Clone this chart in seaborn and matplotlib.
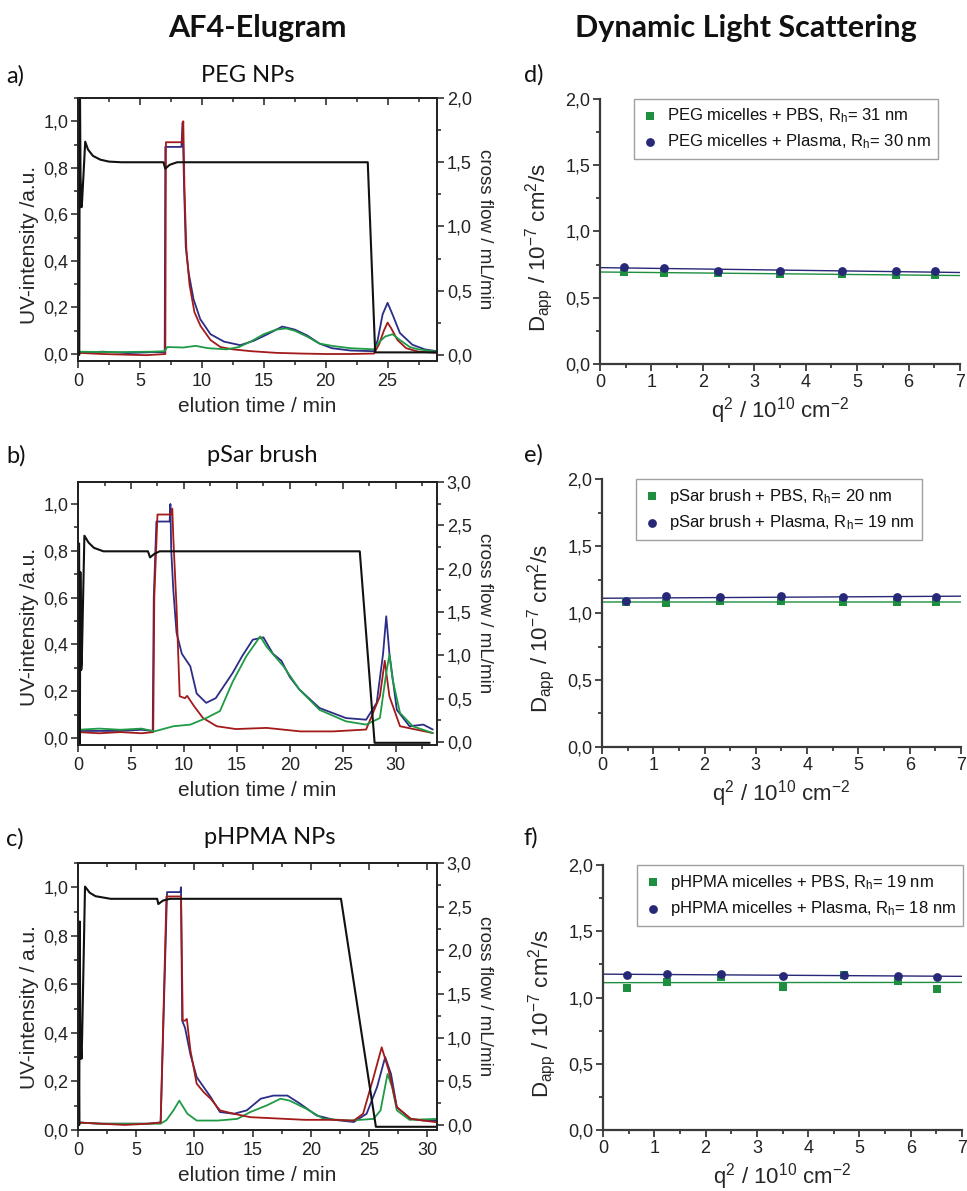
import numpy as np
import matplotlib
matplotlib.use("Agg")
import matplotlib.pyplot as plt
from matplotlib.ticker import MultipleLocator, FuncFormatter, NullFormatter
import seaborn as sns

# ---------------- AF4 data ----------------
# Panel a) PEG NPs
a_blue_t = [0, 2, 4, 6, 7.0, 7.05, 8.35, 8.45, 8.55, 8.7, 8.93, 9.33, 9.87, 10.7, 11.8, 13.1, 14.2, 15.3, 16.5,
            17.5, 18.5, 19.5, 20.5, 22, 23.9, 24.2, 24.6, 25.0, 25.4, 26.0, 27.0, 28.0, 29.0]
a_blue_v = [0.006, 0.01, 0.004, 0.008, 0.008, 0.89, 0.89, 0.995, 0.75, 0.46, 0.35, 0.235, 0.15, 0.085, 0.053,
            0.038, 0.057, 0.085, 0.118, 0.105, 0.08, 0.045, 0.025, 0.015, 0.012, 0.06, 0.17, 0.22, 0.17, 0.09,
            0.04, 0.02, 0.012]
a_red_t = [0, 2, 4, 5.5, 7.05, 7.1, 8.4, 8.5, 8.6, 8.75, 9.0, 9.4, 9.9, 10.7, 11.5, 12.5, 14, 16, 18, 20, 22,
           23.9, 24.3, 24.7, 25.0, 25.3, 25.8, 26.5, 27.5, 29]
a_red_v = [0.005, 0.0, -0.003, -0.005, 0.0, 0.91, 0.91, 1.0, 0.7, 0.45, 0.3, 0.18, 0.12, 0.06, 0.03, 0.02,
           0.012, 0.005, 0.002, 0.0, 0.0, 0.002, 0.04, 0.1, 0.135, 0.11, 0.06, 0.025, 0.01, 0.005]
a_green_t = [0, 3, 6, 7.0, 7.2, 8.5, 9.5, 10.5, 12, 13, 14, 15, 16, 16.8, 17.5, 18.5, 19.5, 20.5, 22, 23.9,
             24.3, 24.8, 25.4, 26.0, 26.8, 27.5, 29]
a_green_v = [0.01, 0.008, 0.01, 0.012, 0.03, 0.028, 0.035, 0.025, 0.02, 0.03, 0.055, 0.085, 0.105, 0.11, 0.1,
             0.075, 0.045, 0.035, 0.025, 0.02, 0.05, 0.075, 0.085, 0.06, 0.03, 0.02, 0.01]
a_flow_t = [0.1, 0.14, 0.2, 0.28, 0.33, 0.58, 0.8, 1.2, 1.8, 2.5, 3.5, 5.0, 6.9, 7.05, 7.4, 8.0, 10, 15, 20,
            23.4, 24.0, 26, 29]
a_flow_v = [0.0, 2.3, 1.4, 1.15, 1.2, 1.66, 1.6, 1.55, 1.52, 1.505, 1.5, 1.5, 1.5, 1.45, 1.48, 1.5, 1.5, 1.5,
            1.5, 1.5, 0.02, 0.02, 0.02]

# Panel b) pSar brush
b_blue_t = [0, 2, 4, 6, 7.05, 7.15, 7.4, 8.65, 8.72, 8.8, 9.0, 9.3, 9.8, 10.6, 11.2, 12.1, 13.0, 14.6, 15.5,
            16.5, 17.5, 18.4, 19.2, 20.0, 20.9, 22.8, 25.3, 27.2, 28.2, 28.8, 29.1, 29.4, 30.1, 31.3, 32.6, 33.5]
b_blue_v = [0.03, 0.03, 0.03, 0.035, 0.03, 0.6, 0.925, 0.925, 1.0, 0.8, 0.63, 0.45, 0.36, 0.306, 0.19, 0.15,
            0.17, 0.278, 0.35, 0.42, 0.43, 0.36, 0.33, 0.26, 0.207, 0.128, 0.085, 0.078, 0.15, 0.36, 0.52, 0.36,
            0.12, 0.05, 0.057, 0.036]
b_red_t = [0, 2, 4, 6, 7.1, 7.2, 7.5, 8.8, 8.9, 9.0, 9.3, 9.6, 10.1, 10.3, 10.97, 11.8, 13.1, 14.9, 17.8,
           21.0, 24.1, 27.2, 28.5, 28.96, 29.4, 30.4, 33.5]
b_red_v = [0.025, 0.02, 0.025, 0.02, 0.025, 0.6, 0.955, 0.955, 0.98, 0.85, 0.56, 0.178, 0.17, 0.18, 0.135,
           0.085, 0.05, 0.038, 0.043, 0.028, 0.028, 0.036, 0.178, 0.33, 0.178, 0.05, 0.021]
b_green_t = [0, 2, 4, 6, 7.2, 9.0, 10.6, 12.1, 13.4, 14.6, 15.9, 17.2, 17.8, 19.4, 20.9, 22.8, 25.3, 27.2,
             28.5, 29.1, 29.4, 29.7, 30.4, 31.6, 33.5]
b_green_v = [0.035, 0.04, 0.035, 0.04, 0.028, 0.05, 0.057, 0.085, 0.115, 0.24, 0.35, 0.434, 0.39, 0.306,
             0.207, 0.12, 0.071, 0.057, 0.085, 0.278, 0.356, 0.25, 0.107, 0.05, 0.021]
b_flow_t = [0.05, 0.1, 0.17, 0.22, 0.3, 0.35, 0.6, 1.0, 1.5, 2.4, 4, 6.6, 6.8, 7.2, 7.7, 10, 20, 26.6, 28.0,
            33.2]
b_flow_v = [2.25, 2.29, -0.02, 1.96, 0.83, 0.9, 2.38, 2.3, 2.24, 2.2, 2.2, 2.2, 2.13, 2.17, 2.2, 2.2, 2.2, 2.2,
            -0.01, -0.01]

# Panel c) pHPMA NPs
c_blue_t = [0, 2, 4, 6, 7.1, 7.65, 8.8, 8.85, 8.95, 9.2, 9.66, 10.2, 10.8, 11.4, 12.2, 13.4, 14.5, 15.7, 16.8,
            18.0, 19.1, 20.5, 22.0, 23.7, 24.8, 25.7, 26.4, 26.9, 27.4, 28.6, 29.7, 31]
c_blue_v = [0.03, 0.025, 0.025, 0.025, 0.03, 0.98, 0.98, 1.0, 0.45, 0.42, 0.31, 0.217, 0.176, 0.135, 0.073,
            0.066, 0.08, 0.128, 0.141, 0.141, 0.107, 0.059, 0.041, 0.032, 0.066, 0.176, 0.3, 0.23, 0.093, 0.045,
            0.038, 0.04]
c_red_t = [0, 2, 4, 6, 7.1, 7.6, 8.85, 9.0, 9.2, 9.35, 9.66, 10.2, 10.8, 11.4, 12.2, 13.4, 14.8, 16.5, 19.5,
           22.0, 23.7, 24.5, 25.4, 26.1, 26.7, 27.4, 28.6, 31]
c_red_v = [0.03, 0.025, 0.02, 0.025, 0.03, 0.962, 0.962, 0.45, 0.45, 0.457, 0.327, 0.19, 0.155, 0.128, 0.08,
           0.066, 0.052, 0.048, 0.041, 0.041, 0.038, 0.066, 0.217, 0.34, 0.245, 0.093, 0.045, 0.03]
c_green_t = [0, 2, 4, 6, 7.1, 7.6, 8.2, 8.7, 9.4, 10.2, 12.0, 13.7, 14.8, 16.2, 17.4, 18.2, 19.6, 21.1, 23.4,
             25.4, 26.0, 26.6, 27.0, 27.4, 28.5, 31]
c_green_v = [0.03, 0.025, 0.025, 0.025, 0.025, 0.04, 0.08, 0.12, 0.066, 0.038, 0.038, 0.045, 0.073, 0.1, 0.128,
             0.12, 0.087, 0.045, 0.038, 0.045, 0.08, 0.23, 0.176, 0.08, 0.041, 0.045]
c_flow_t = [0.05, 0.1, 0.15, 0.2, 0.25, 0.3, 0.35, 0.6, 1.0, 1.5, 2.8, 5, 6.8, 6.9, 7.3, 7.9, 10, 15, 20, 22.6,
            25.6, 31]
c_flow_v = [1.0, 0.0, 2.33, 0.76, 0.9, 0.76, 1.0, 2.73, 2.66, 2.62, 2.59, 2.59, 2.59, 2.53, 2.57, 2.59, 2.59,
            2.59, 2.59, 2.59, -0.02, -0.02]

# ---------------- DLS data ----------------
q2 = [0.47, 1.25, 2.3, 3.5, 4.7, 5.75, 6.52]
d_pbs = [0.697, 0.686, 0.686, 0.676, 0.676, 0.673, 0.671]
d_plasma = [0.735, 0.722, 0.702, 0.705, 0.699, 0.699, 0.699]
e_pbs = [1.08, 1.075, 1.09, 1.09, 1.08, 1.08, 1.08]
e_plasma = [1.09, 1.127, 1.12, 1.13, 1.12, 1.12, 1.118]
f_pbs = [1.075, 1.12, 1.153, 1.083, 1.168, 1.125, 1.068]
f_plasma = [1.168, 1.18, 1.175, 1.163, 1.17, 1.163, 1.158]

d_labels = ["PEG micelles + PBS, R$_h$= 31 nm", "PEG micelles + Plasma, R$_h$= 30 nm"]
e_labels = ["pSar brush + PBS, R$_h$= 20 nm", "pSar brush + Plasma, R$_h$= 19 nm"]
f_labels = ["pHPMA micelles + PBS, R$_h$= 19 nm", "pHPMA micelles + Plasma, R$_h$= 18 nm"]

BLUE = "#2b2d86"
RED = "#a31a1a"
GREEN = "#1f9a45"
DGREEN = "#1d8f3e"
NAVY = "#282878"

sns.set_theme(style="ticks")
plt.rcParams["font.family"] = ["Liberation Sans", "DejaVu Sans"]
plt.rcParams["mathtext.fontset"] = "custom"
plt.rcParams["mathtext.rm"] = "Liberation Sans"
plt.rcParams["mathtext.it"] = "Liberation Sans:italic"
plt.rcParams["mathtext.bf"] = "Liberation Sans:bold"
plt.rcParams["mathtext.default"] = "regular"
plt.rcParams["axes.edgecolor"] = "#222222"
plt.rcParams["xtick.color"] = "#222222"
plt.rcParams["ytick.color"] = "#222222"
plt.rcParams["text.color"] = "#111111"

fig = plt.figure(figsize=(9.67, 11.91), dpi=100)


def comma(v, pos):
    if abs(v) < 1e-9:
        v = 0.0
    return f"{v:.1f}".replace(".", ",")


def af4_panel(rect, xlim, yl, yr, rmaj, curves, flow_t, flow_v, ylabel, label_y):
    ax = fig.add_axes(rect)
    for t, v, c in curves:
        sns.lineplot(x=t, y=v, ax=ax, color=c, lw=1.3, sort=False, estimator=None)
    ax.set_xlim(*xlim)
    ax.set_ylim(*yl)
    ax.xaxis.set_major_locator(MultipleLocator(5))
    ax.xaxis.set_minor_locator(MultipleLocator(2.5))
    ax.yaxis.set_major_locator(MultipleLocator(0.2))
    ax.yaxis.set_minor_locator(MultipleLocator(0.1))
    ax.yaxis.set_major_formatter(FuncFormatter(comma))
    ax.tick_params(which="both", direction="out", top=False, right=False, labelsize=13, width=1.1)
    ax.tick_params(which="major", length=5)
    ax.tick_params(which="minor", length=3)
    ax.tick_params(axis="y", pad=2)
    for s in ax.spines.values():
        s.set_linewidth(1.3)
    ax.set_xlabel("elution time / min", fontsize=15, labelpad=5)
    ax.set_ylabel(ylabel, fontsize=15)
    ax.yaxis.set_label_coords(-0.108, label_y)

    ax2 = ax.twinx()
    sns.lineplot(x=flow_t, y=flow_v, ax=ax2, color="#111111", lw=1.5, sort=False, estimator=None)
    ax2.set_xlim(*xlim)
    ax2.set_ylim(*yr)
    ax2.yaxis.set_major_locator(MultipleLocator(rmaj))
    ax2.yaxis.set_minor_locator(MultipleLocator(rmaj / 2))
    ax2.yaxis.set_major_formatter(FuncFormatter(comma))
    ax2.tick_params(which="both", direction="out", labelsize=13, width=1.1, pad=2)
    ax2.tick_params(which="major", length=5)
    ax2.tick_params(which="minor", length=3)
    ax2.set_ylabel("cross flow / mL/min", fontsize=13.5, rotation=270, labelpad=3, va="bottom")
    for s in ax2.spines.values():
        s.set_linewidth(1.3)

    sec = ax.secondary_xaxis("top")
    sec.xaxis.set_major_locator(MultipleLocator(5))
    sec.xaxis.set_minor_locator(MultipleLocator(2.5))
    sec.xaxis.set_major_formatter(NullFormatter())
    sec.tick_params(which="both", direction="in", width=1.1)
    sec.tick_params(which="major", length=5)
    sec.tick_params(which="minor", length=3)
    return ax


def dls_panel(rect, pbs, plasma, labels, label_y):
    ax = fig.add_axes(rect)
    ax.set_xlim(0, 7)
    ax.set_ylim(0, 2)
    sns.regplot(x=q2, y=pbs, ax=ax, scatter=False, ci=None, truncate=False, color=DGREEN,
                line_kws=dict(lw=1.0))
    sns.regplot(x=q2, y=plasma, ax=ax, scatter=False, ci=None, truncate=False, color=NAVY,
                line_kws=dict(lw=1.0))
    sns.scatterplot(x=q2, y=pbs, ax=ax, color=DGREEN, marker="s", s=26, linewidth=0, label=labels[0], zorder=3)
    sns.scatterplot(x=q2, y=plasma, ax=ax, color=NAVY, marker="o", s=40, linewidth=0, label=labels[1], zorder=3)
    ax.set_xlim(0, 7)
    ax.set_ylim(0, 2)
    ax.spines[["top", "right"]].set_visible(False)
    for s in ("left", "bottom"):
        ax.spines[s].set_linewidth(1.6)
        ax.spines[s].set_color("#3a3a3a")
    ax.xaxis.set_major_locator(MultipleLocator(1))
    ax.xaxis.set_minor_locator(MultipleLocator(0.5))
    ax.yaxis.set_major_locator(MultipleLocator(0.5))
    ax.yaxis.set_minor_locator(MultipleLocator(0.25))
    ax.yaxis.set_major_formatter(FuncFormatter(comma))
    ax.tick_params(which="both", direction="out", labelsize=13, width=1.3, color="#3a3a3a")
    ax.tick_params(which="major", length=5)
    ax.tick_params(which="minor", length=3)
    ax.tick_params(axis="y", pad=2)
    ax.tick_params(axis="x", pad=2)
    ax.set_xlabel(r"q$^2$ / 10$^{10}$ cm$^{-2}$", fontsize=16, labelpad=3)
    ax.set_ylabel(r"D$_{app}$ / 10$^{-7}$ cm$^2$/s", fontsize=16)
    ax.yaxis.set_label_coords(-0.125, label_y)
    leg = ax.legend(loc="upper left", bbox_to_anchor=(0.095, 1.0), borderaxespad=0, frameon=True,
                    fancybox=False, edgecolor="#888888", fontsize=12, handletextpad=0.5,
                    handlelength=1.0, borderpad=0.45, labelspacing=0.45)
    leg.get_frame().set_linewidth(1.0)
    return ax


af4_panel([0.0807, 0.6969, 0.3713, 0.2208], (0, 29), (-0.03, 1.1), (-0.047, 2.0), 0.5,
          [(a_blue_t, a_blue_v, BLUE), (a_red_t, a_red_v, RED), (a_green_t, a_green_v, GREEN)],
          a_flow_t, a_flow_v, "UV-intensity /a.u.", 0.44)
af4_panel([0.0807, 0.3745, 0.3713, 0.2208], (0, 33.9), (-0.03, 1.094), (-0.035, 3.0), 0.5,
          [(b_blue_t, b_blue_v, BLUE), (b_red_t, b_red_v, RED), (b_green_t, b_green_v, GREEN)],
          b_flow_t, b_flow_v, "UV-intensity /a.u.", 0.45)
af4_panel([0.0807, 0.0512, 0.3713, 0.2242], (0, 30.86), (-0.001, 1.1), (-0.057, 3.0), 0.5,
          [(c_blue_t, c_blue_v, BLUE), (c_green_t, c_green_v, GREEN), (c_red_t, c_red_v, RED)],
          c_flow_t, c_flow_v, "UV-intensity / a.u.", 0.46)

dls_panel([0.6205, 0.6944, 0.3723, 0.2225], d_pbs, d_plasma, d_labels, 0.44)
dls_panel([0.6225, 0.3728, 0.3713, 0.2250], e_pbs, e_plasma, e_labels, 0.44)
dls_panel([0.6236, 0.0512, 0.3713, 0.2225], f_pbs, f_plasma, f_labels, 0.44)

W, H = 967.0, 1191.0
head = dict(ha="center", va="center", fontsize=22, fontweight="bold", family=["Lato", "DejaVu Sans"])
fig.text(257 / W, 1 - 28 / H, "AF4-Elugram", **head)
fig.text(746 / W, 1 - 28 / H, "Dynamic Light Scattering", **head)

lab = dict(ha="left", va="center", fontsize=17, family=["Lato", "DejaVu Sans"])
for x, y, s in [(6, 76, "a)"), (6, 456, "b)"), (6, 839, "c)"), (524, 75, "d)"), (524, 455, "e)"),
                (524, 838, "f)")]:
    fig.text(x / W, 1 - y / H, s, **lab)

tit = dict(ha="center", va="center", fontsize=17, family=["Lato", "DejaVu Sans"])
for x, y, s in [(248, 76, "PEG NPs"), (262, 455, "pSar brush"), (270, 838, "pHPMA NPs")]:
    fig.text(x / W, 1 - y / H, s, **tit)

fig.savefig("out.png", dpi=100)
